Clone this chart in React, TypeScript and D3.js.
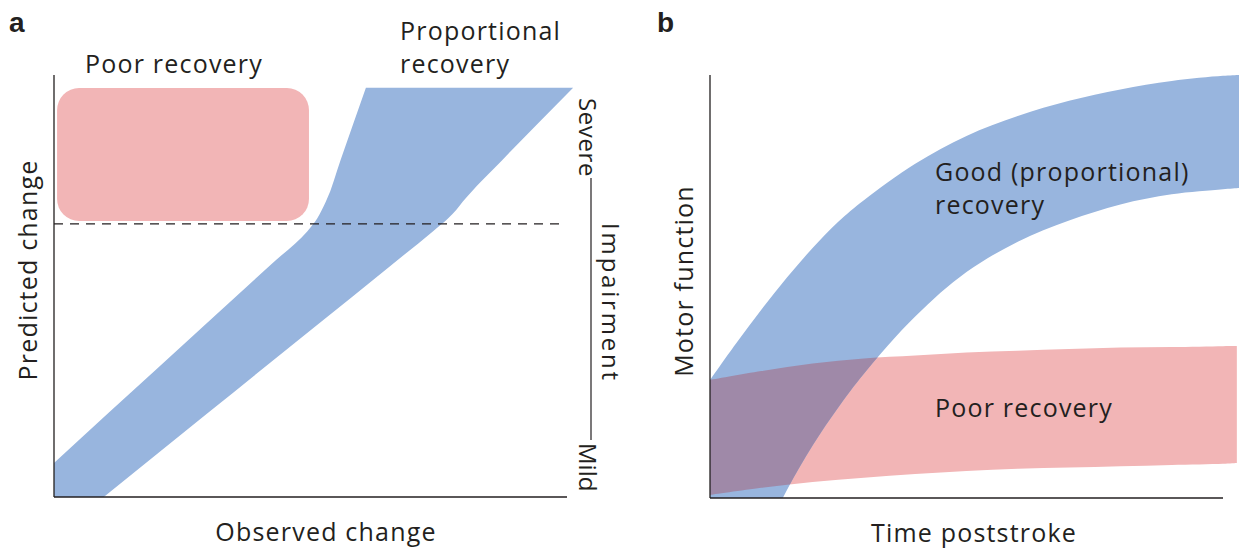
import React from 'react';
import * as d3 from 'd3';

const W = 1239;
const H = 554;

const INK = '#231f20';
const BLUE = '#98b5de';
const PINK = '#f2b5b6';
const OVERLAP = '#9f89a8';
const FONT = '"Open Sans", Lato, sans-serif';

// Panel a: proportional recovery band, rows of predicted change with the
// observed change at the left and right edge of the band
const predRows = [0, 20, 40, 55, 63, 66, 68, 70, 80, 97];
const bandLeft = [-7.2, 10.7, 28.7, 42.2, 49.4, 51.3, 52.2, 53.0, 55.9, 60.8];
const bandRight = [9.7, 30.1, 50.5, 65.8, 73.9, 76.8, 78.4, 79.7, 87.5, 101.2];
// poor recovery block (observed range, predicted range)
const poorObserved = [0.6, 49.7];
const poorPredicted = [65.4, 96.9];
// severity threshold (dashed line)
const thresholdPredicted = 64.7;
const thresholdObserved = [0, 99];

// Panel b: motor function over time poststroke
const goodTime = [0, 5, 10, 15, 20, 25, 30, 40, 50, 60, 70, 80, 90, 100, 103.2];
const goodUpper = [27.9, 36.4, 44.5, 52.1, 59.1, 65.3, 70.4, 79.0, 85.6, 90.3, 93.9, 96.6, 98.6, 99.8, 100];
const goodLower = [-35, -23, -10.6, 1.9, 12.4, 21.4, 29.4, 42.9, 53.4, 60.6, 65.6, 69.4, 71.8, 73.0, 73.3];
const poorTime = [0, 10, 20, 30, 40, 50, 60, 70, 80, 90, 100, 102.7];
const poorUpper = [27.9, 30.0, 31.8, 33.0, 33.7, 34.4, 34.8, 35.2, 35.6, 35.7, 35.9, 35.9];
const poorLower = [0.7, 2.4, 3.8, 4.8, 5.7, 6.4, 6.9, 7.2, 7.5, 7.8, 8.1, 8.3];

const xa = d3.scaleLinear().domain([0, 100]).range([54, 567]);
const ya = d3.scaleLinear().domain([0, 100]).range([497, 75]);
const xb = d3.scaleLinear().domain([0, 100]).range([710, 1223]);
const yb = d3.scaleLinear().domain([0, 100]).range([498, 75]);

const labelStyle: React.CSSProperties = {
  fontFamily: FONT,
  fontSize: 25,
  letterSpacing: 1.2,
  fill: INK,
};

const panelLetter: React.CSSProperties = {
  fontFamily: '"Liberation Sans", Arial, sans-serif',
  fontWeight: 700,
  fontSize: 28,
  fill: INK,
};

export default function App() {
  const bandA = d3
    .area<number>()
    .curve(d3.curveMonotoneY)
    .y(d => ya(d))
    .x0((_d, i) => xa(bandLeft[i]))
    .x1((_d, i) => xa(bandRight[i]))(predRows) as string;

  const goodBand = d3
    .area<number>()
    .curve(d3.curveCatmullRom.alpha(0.5))
    .x(d => xb(d))
    .y0((_d, i) => yb(goodLower[i]))
    .y1((_d, i) => yb(goodUpper[i]))(goodTime) as string;

  const poorBand = d3
    .area<number>()
    .curve(d3.curveCatmullRom.alpha(0.5))
    .x(d => xb(d))
    .y0((_d, i) => yb(poorLower[i]))
    .y1((_d, i) => yb(poorUpper[i]))(poorTime) as string;

  const axisStroke = { stroke: INK, strokeWidth: 1.3 };

  return (
    <svg
      width={W}
      height={H}
      viewBox={`0 0 ${W} ${H}`}
      style={{ position: 'absolute', left: 0, top: 0, background: '#fff' }}
    >
      <defs>
        <clipPath id="clipA">
          <rect x={xa(0)} y={0} width={W - xa(0)} height={ya(0)} />
        </clipPath>
        <clipPath id="clipB">
          <rect x={xb(0)} y={0} width={W - xb(0)} height={yb(0)} />
        </clipPath>
        <clipPath id="clipPoor">
          <path d={poorBand} />
        </clipPath>
      </defs>

      {/* ---------- panel a ---------- */}
      <text x={9} y={32} style={panelLetter}>a</text>

      <rect
        x={xa(poorObserved[0])}
        y={ya(poorPredicted[1])}
        width={xa(poorObserved[1]) - xa(poorObserved[0])}
        height={ya(poorPredicted[0]) - ya(poorPredicted[1])}
        rx={22}
        fill={PINK}
      />
      <path d={bandA} fill={BLUE} clipPath="url(#clipA)" />

      <line
        x1={xa(thresholdObserved[0])}
        x2={xa(thresholdObserved[1])}
        y1={ya(thresholdPredicted)}
        y2={ya(thresholdPredicted)}
        stroke={INK}
        strokeWidth={1.2}
        strokeDasharray="9 7"
      />

      <line x1={xa(0)} x2={xa(0)} y1={ya(100)} y2={ya(0)} {...axisStroke} />
      <line x1={xa(0)} x2={xa(100)} y1={ya(0)} y2={ya(0)} {...axisStroke} />

      <text x={85} y={73} style={labelStyle}>Poor recovery</text>
      <text x={400} y={40} style={labelStyle}>Proportional</text>
      <text x={400} y={73} style={labelStyle}>recovery</text>
      <text x={326} y={541} textAnchor="middle" style={labelStyle}>Observed change</text>
      <text transform="translate(37,270) rotate(-90)" textAnchor="middle" style={labelStyle}>
        Predicted change
      </text>

      {/* impairment scale */}
      <line x1={591} x2={591} y1={178} y2={440} stroke={INK} strokeWidth={1.2} />
      <text transform="translate(579,98) rotate(90)" style={{ ...labelStyle, fontSize: 24, letterSpacing: 0.6 }}>Severe</text>
      <text transform="translate(579,443) rotate(90)" style={{ ...labelStyle, fontSize: 24, letterSpacing: 0 }}>Mild</text>
      <text transform="translate(602,303) rotate(90)" textAnchor="middle" style={{ ...labelStyle, fontSize: 24, letterSpacing: 2.8 }}>
        Impairment
      </text>

      {/* ---------- panel b ---------- */}
      <text x={657} y={32} style={panelLetter}>b</text>

      <g clipPath="url(#clipB)">
        <path d={poorBand} fill={PINK} />
        <path d={goodBand} fill={BLUE} />
        <path d={goodBand} fill={OVERLAP} clipPath="url(#clipPoor)" />
      </g>

      <line x1={xb(0)} x2={xb(0)} y1={yb(100)} y2={yb(0)} {...axisStroke} />
      <line x1={xb(0)} x2={xb(100)} y1={yb(0)} y2={yb(0)} {...axisStroke} />

      <text x={935} y={181} style={labelStyle}>Good (proportional)</text>
      <text x={935} y={214} style={labelStyle}>recovery</text>
      <text x={935} y={417} style={labelStyle}>Poor recovery</text>
      <text x={974} y={542} textAnchor="middle" style={labelStyle}>Time poststroke</text>
      <text transform="translate(693,281) rotate(-90)" textAnchor="middle" style={labelStyle}>
        Motor function
      </text>
    </svg>
  );
}
